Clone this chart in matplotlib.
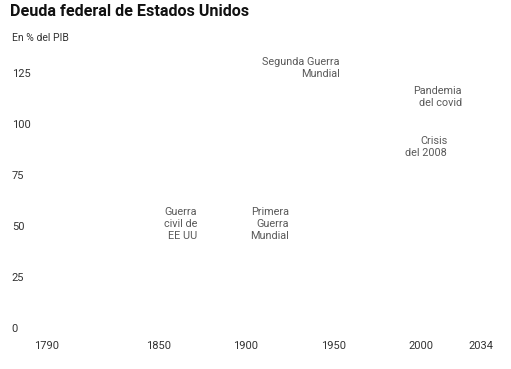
import matplotlib.pyplot as plt
import matplotlib.transforms as mtransforms

plt.rcParams['font.family'] = ['Roboto', 'DejaVu Sans']

# axis ticks
x_ticks = [1790, 1850, 1900, 1950, 2000, 2034]
y_ticks = [0, 25, 50, 75, 100, 125]

# annotations (right edge year, vertical centre value)
ann_labels = ['Guerra\ncivil de\nEE UU', 'Primera\nGuerra\nMundial',
              'Segunda Guerra\nMundial', 'Crisis\ndel 2008', 'Pandemia\ndel covid']
ann_years = [1872, 1924.5, 1953.5, 2015, 2023.5]
ann_values = [51, 51, 127.5, 88.5, 113]

fig = plt.figure(figsize=(5.11, 3.69), dpi=100)
ax = fig.add_axes([0.1047, 0.1111, 0.8356, 0.7463])
ax.set_xlim(1790, 2034)
ax.set_ylim(0, 135)

for s in ax.spines.values():
    s.set_visible(False)

ax.set_xticks(x_ticks)
ax.set_xticklabels([str(t) for t in x_ticks])
ax.set_yticks(y_ticks)
ax.set_yticklabels([str(t) for t in y_ticks])
ax.tick_params(axis='both', length=0, labelsize=8, labelcolor='#333333')
ax.tick_params(axis='x', pad=9)
ax.tick_params(axis='y', pad=30)
for lab in ax.get_yticklabels():
    lab.set_horizontalalignment('left')

# first year label sits a little to the left
first = ax.get_xticklabels()[0]
first.set_transform(first.get_transform() +
                    mtransforms.ScaledTranslation(-7 / 100, 0, fig.dpi_scale_trans))

for lab, yr, val in zip(ann_labels, ann_years, ann_values):
    ax.text(yr, val, lab, ha='right', va='center', fontsize=7.8,
            color='#5a5a5a', linespacing=1.25)

fig.text(0.02, 0.988, 'Deuda federal de Estados Unidos', fontsize=11.6,
         fontweight='bold', color='#111111', va='top', ha='left')
fig.text(0.024, 0.91, 'En % del PIB', fontsize=7.5, color='#333333',
         va='top', ha='left')

fig.savefig('out.png', dpi=100)
